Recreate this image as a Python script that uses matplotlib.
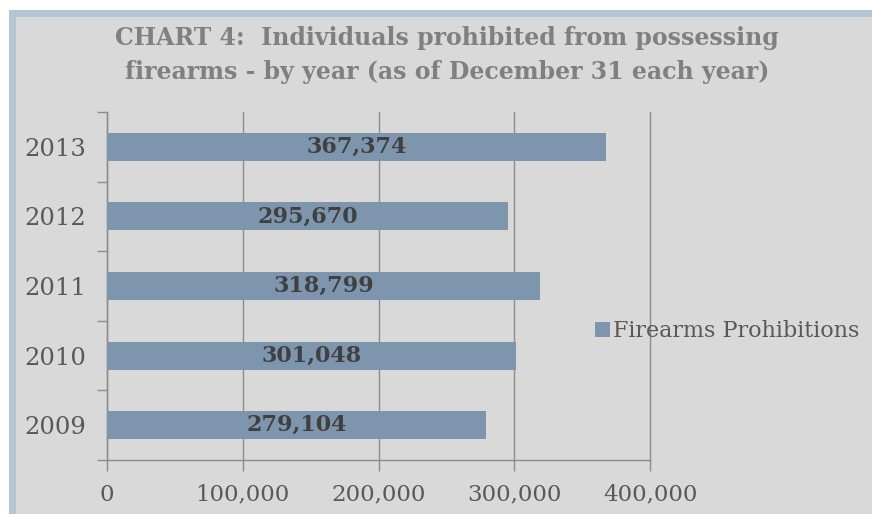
import matplotlib.pyplot as plt
from matplotlib.patches import Rectangle

years = ["2009", "2010", "2011", "2012", "2013"]
prohibitions = [279104, 301048, 318799, 295670, 367374]
x_ticks = [0, 100000, 200000, 300000, 400000]
series_name = "Firearms Prohibitions"
title = "CHART 4:  Individuals prohibited from possessing\nfirearms - by year (as of December 31 each year)"

bar_color = "#7d95ad"
grid_color = "#8c8c8c"
text_color = "#595959"

plt.rcParams["font.family"] = ["DejaVu Serif"]

fig = plt.figure(figsize=(8.72, 5.14), dpi=100)
W, H = 872, 514

# chart frame: light blue border on top/left, gray fill
fig.patches.append(Rectangle((9 / W, 0), 1, 1 - 10 / H, transform=fig.transFigure,
                             facecolor="#b4c5d3", edgecolor="none", zorder=-2))
fig.patches.append(Rectangle((16 / W, 0), 1, 1 - 17 / H, transform=fig.transFigure,
                             facecolor="#d9d9d9", edgecolor="none", zorder=-1))

ax = fig.add_axes([107 / W, 1 - 460 / H, (650 - 107) / W, (460 - 112) / H])
ax.set_facecolor("none")

pos = list(range(len(years)))
bars = ax.barh(pos, prohibitions, height=0.4, color=bar_color, zorder=3, label=series_name)
for p, v in zip(pos, prohibitions):
    ax.text(v / 2, p, f"{v:,}", ha="center", va="center", fontsize=16,
            fontweight="bold", color="#404040", zorder=4)

ax.set_xlim(0, 400000)
ax.set_ylim(-0.5, len(years) - 0.5)
ax.set_xticks(x_ticks)
ax.set_xticklabels([f"{t:,}" for t in x_ticks])
ax.set_yticks(pos)
ax.set_yticklabels(years)
ax.set_yticks([p - 0.5 for p in range(len(years) + 1)], minor=True)

ax.tick_params(axis="y", which="major", length=0, pad=15, labelsize=17.5, labelcolor=text_color)
ax.tick_params(axis="y", which="minor", length=7, color=grid_color, width=1)
ax.tick_params(axis="x", which="major", length=8, color=grid_color, width=1,
               pad=9, labelsize=16.5, labelcolor=text_color)

ax.grid(axis="x", color=grid_color, linewidth=1, zorder=0)
for line in ax.get_xgridlines():
    line.set_clip_on(False)
for s in ["top", "right"]:
    ax.spines[s].set_visible(False)
for s in ["left", "bottom"]:
    ax.spines[s].set_color(grid_color)
    ax.spines[s].set_linewidth(1)

fig.text(447 / W, 1 - 55 / H, title, ha="center", va="center", fontsize=17,
         fontweight="bold", color="#808080", linespacing=1.55)

fig.legend(handles=[bars], labels=[series_name], loc="center left",
           bbox_to_anchor=(584 / W, 1 - 331 / H), frameon=False, fontsize=16,
           labelcolor=text_color, handlelength=0.65, handleheight=0.65,
           handletextpad=0.15, borderpad=0)

fig.savefig("out.png", dpi=100)
